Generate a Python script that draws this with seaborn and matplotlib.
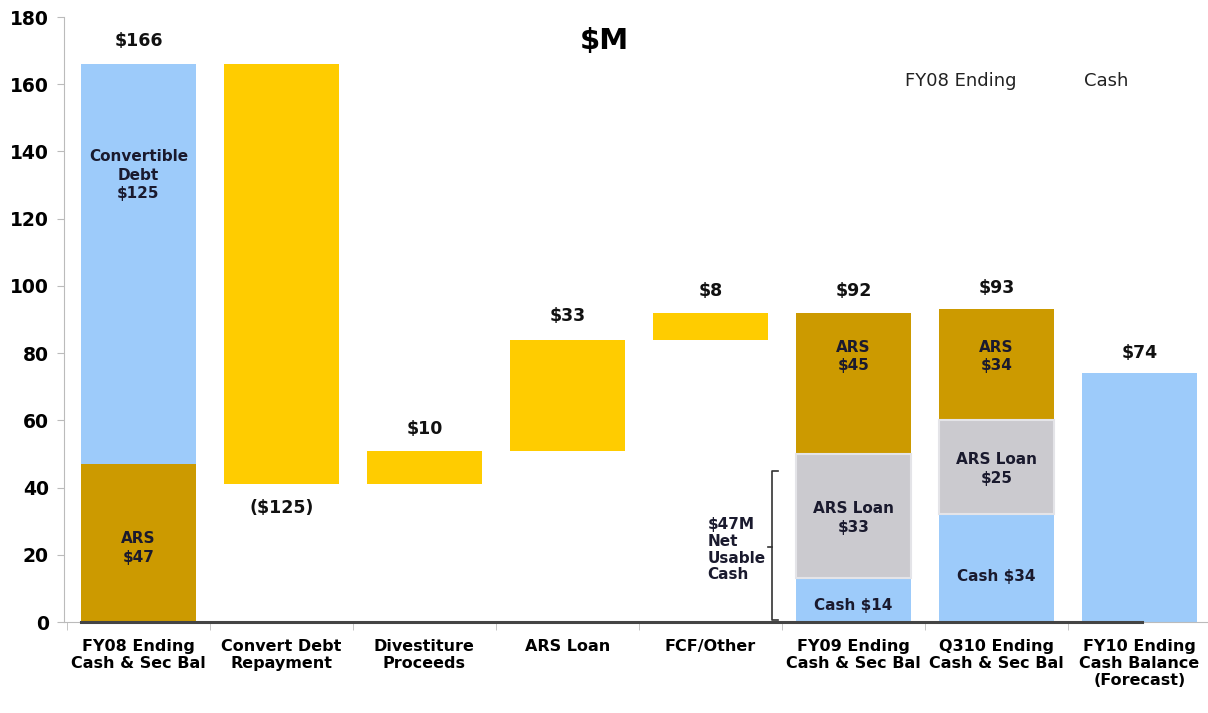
import pandas as pd
import matplotlib
matplotlib.use("Agg")
import matplotlib.pyplot as plt
import seaborn as sns

# categories along the x axis
categories = ["FY08 Ending\nCash & Sec Bal", "Convert Debt\nRepayment", "Divestiture\nProceeds",
              "ARS Loan", "FCF/Other", "FY09 Ending\nCash & Sec Bal", "Q310 Ending\nCash & Sec Bal",
              "FY10 Ending\nCash Balance\n(Forecast)"]

# bar segments (low / high as drawn in the picture, $M)
seg_cat = [0, 0, 1, 2, 3, 4, 5, 5, 5, 6, 6, 6, 7]
seg_low = [0, 47, 41, 41, 51, 84, 0, 13, 50, 0, 32, 60, 0]
seg_high = [47, 166, 166, 51, 84, 92, 13, 50, 92, 32, 60, 93, 74]
seg_kind = ["ARS", "Cash", "Flow", "Flow", "Flow", "Flow", "Cash", "Loan", "ARS",
            "Cash", "Loan", "ARS", "Cash"]
seg_text = ["ARS\n$47", "Convertible\nDebt\n$125", "", "", "", "", "Cash $14", "ARS Loan\n$33",
            "ARS\n$45", "Cash $34", "ARS Loan\n$25", "ARS\n$34", ""]
seg_text_y = [22, 133, 0, 0, 0, 0, 5, 31, 79, 13.5, 45.5, 79, 0]

# labels above / below bars
top_labels = ["$166", "($125)", "$10", "$33", "$8", "$92", "$93", "$74"]
top_label_y = [173, 34, 57.5, 91, 98.5, 98.5, 99.5, 80]

colors = {"ARS": "#CC9A00", "Cash": "#9DCBFA", "Flow": "#FFCC00", "Loan": "#CBCACF"}

df = pd.DataFrame({"cat": [categories[i] for i in seg_cat], "low": seg_low,
                   "high": seg_high, "kind": seg_kind})
df["height"] = df["high"] - df["low"]

fig = plt.figure(figsize=(12.08, 7.13), dpi=100)
ax = fig.add_axes([0.053, 0.1276, 0.947, 0.8485])

for kind, sub in df.groupby("kind"):
    sns.barplot(data=sub, x="cat", y="height", order=categories, bottom=sub["low"].values,
                color=colors[kind], saturation=1, width=0.8, ax=ax,
                edgecolor="#E4E4E8" if kind == "Loan" else "none", linewidth=1.5)

for c, t, y in zip(seg_cat, seg_text, seg_text_y):
    if t:
        ax.text(c, y, t, ha="center", va="center", fontsize=11, fontweight="bold",
                color="#1a1a2e", linespacing=1.3)

for i, (t, y) in enumerate(zip(top_labels, top_label_y)):
    ax.text(i, y, t, ha="center", va="center", fontsize=12.5, fontweight="bold", color="#111111")

# bracket for net usable cash
bx = 4.43
ax.plot([bx + 0.04, bx, bx, bx + 0.04], [45, 45, 0.5, 0.5], color="#333333", lw=1.2)
ax.plot([bx - 0.03, bx], [22.3, 22.3], color="#333333", lw=1.2)
ax.text(3.98, 21.5, "$47M\nNet\nUsable\nCash", ha="left", va="center", fontsize=11,
        fontweight="bold", color="#1a1a2e", linespacing=1.15)

ax.text(3.26, 173, "$M", ha="center", va="center", fontsize=21, fontweight="bold")
ax.text(5.75, 161, "FY08 Ending", ha="center", va="center", fontsize=13, color="#222222")
ax.text(6.77, 161, "Cash", ha="center", va="center", fontsize=13, color="#222222")

# baseline
ax.plot([-0.4, 7.02], [0, 0], color="#444444", lw=2.2, clip_on=False, zorder=5)

ax.set_xlim(-0.52, 7.48)
ax.set_ylim(0, 180)
ax.set_yticks(range(0, 181, 20))
ax.set_xlabel("")
ax.set_ylabel("")
ax.tick_params(axis="y", labelsize=13.5, length=5, color="#BBBBBB", pad=6)
ax.tick_params(axis="x", which="major", length=0, pad=12, labelsize=11.5)
ax.set_xticks([i + 0.5 for i in range(-1, 7)], minor=True)
ax.tick_params(axis="x", which="minor", length=6, color="#BBBBBB")
for lab in ax.get_yticklabels() + ax.get_xticklabels():
    lab.set_fontweight("bold")
for s in ["top", "right"]:
    ax.spines[s].set_visible(False)
ax.spines["left"].set_color("#BBBBBB")
ax.spines["bottom"].set_color("#BBBBBB")

fig.savefig("out.png", dpi=100)
